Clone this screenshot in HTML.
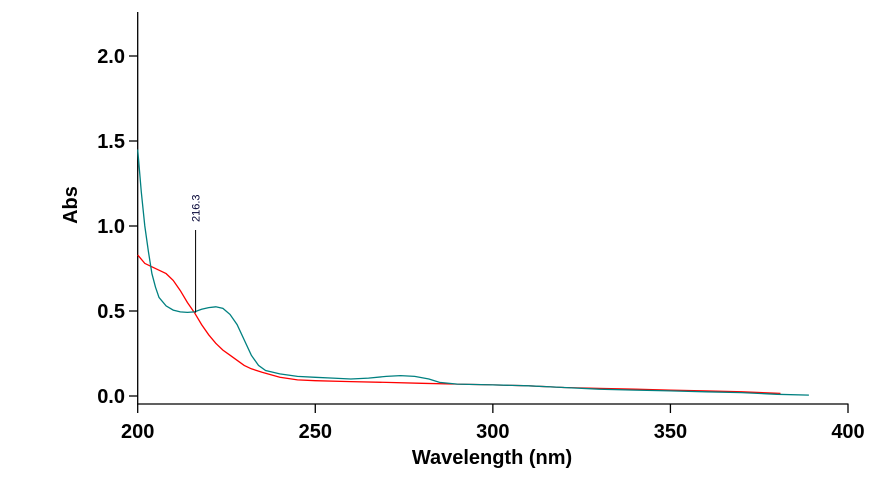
<!DOCTYPE html>
<html><head><meta charset="utf-8"><style>
html,body{margin:0;padding:0;background:#fff;}
svg text{font-family:"Liberation Sans",Arial,sans-serif;}
</style></head><body>
<svg id="chart" width="896" height="480" viewBox="0 0 896 480" xmlns="http://www.w3.org/2000/svg">
<g id="axes"></g>
<g id="series"></g>
<g id="annot"></g>
<text x="0" y="0" transform="translate(77,205) rotate(-90)" text-anchor="middle" font-size="20" font-weight="bold">Abs</text>
<text x="492" y="464" text-anchor="middle" font-size="20" font-weight="bold">Wavelength (nm)</text>
</svg>
<script>
const xTicks=[200,250,300,350,400];
const yTicks=[0.0,0.5,1.0,1.5,2.0];
const yTickLabels=["0.0","0.5","1.0","1.5","2.0"];
const tealX=[200,201,202,203,204,205,206,208,210,212,214,216,218,220,222,224,226,228,230,232,234,236,240,245,250,255,260,265,270,274,278,282,285,290,300,310,320,330,340,350,360,370,380,389];
const tealY=[1.45,1.2,1.0,0.85,0.72,0.64,0.58,0.53,0.505,0.495,0.492,0.495,0.51,0.52,0.525,0.515,0.48,0.42,0.33,0.24,0.18,0.15,0.13,0.115,0.11,0.105,0.10,0.105,0.115,0.12,0.115,0.10,0.08,0.07,0.065,0.06,0.05,0.04,0.035,0.03,0.025,0.02,0.01,0.005];
const redX=[200,202,204,206,208,210,212,214,216,218,220,222,224,226,228,230,232,235,240,245,250,260,270,280,290,300,310,320,330,340,350,360,370,381];
const redY=[0.83,0.78,0.76,0.74,0.72,0.68,0.62,0.55,0.49,0.42,0.36,0.31,0.27,0.24,0.21,0.18,0.16,0.14,0.11,0.095,0.09,0.085,0.08,0.075,0.07,0.065,0.06,0.05,0.045,0.04,0.035,0.03,0.025,0.015];
const peakX=[216.3];
const peakY=[0.49];
const peakLabels=["216.3"];
const NS="http://www.w3.org/2000/svg";
const xs=v=>137.7+(v-200)*(848-137.7)/200;
const ys=v=>396-v*170;
function mk(tag,attrs,parent){const e=document.createElementNS(NS,tag);for(const k in attrs)e.setAttribute(k,attrs[k]);parent.appendChild(e);return e;}
const ax=document.getElementById('axes');
let l=mk('line',{x1:137.7,y1:12,x2:137.7,y2:404,stroke:'#000','stroke-width':1.3},ax);


l=mk('line',{x1:137,y1:404,x2:848.5,y2:404,stroke:'#000','stroke-width':1.3},ax);


xTicks.forEach(v=>{
 const t=mk('line',{x1:xs(v),y1:404,x2:xs(v),y2:413,stroke:'#000','stroke-width':1.3},ax);
 
 
 const tx=mk('text',{x:xs(v),y:438,'text-anchor':'middle','font-size':20,'font-weight':'bold'},ax);
 tx.textContent=String(v);
 
 
});
yTicks.forEach((v,i)=>{
 const t=mk('line',{x1:129,y1:ys(v),x2:137.7,y2:ys(v),stroke:'#000','stroke-width':1.3},ax);
 
 
 const tx=mk('text',{x:125,y:ys(v)+7,'text-anchor':'end','font-size':20,'font-weight':'bold'},ax);
 tx.textContent=yTickLabels[i];
 
 
});
const sg=document.getElementById('series');
function pts(X,Y){return X.map((x,i)=>xs(x).toFixed(1)+','+ys(Y[i]).toFixed(1)).join(' ');}
let p=mk('polyline',{points:pts(redX,redY),fill:'none',stroke:'#ff0000','stroke-width':1.3},sg);


p=mk('polyline',{points:pts(tealX,tealY),fill:'none',stroke:'#008080','stroke-width':1.3},sg);


const an=document.getElementById('annot');
peakX.forEach((v,i)=>{
 const ln=mk('line',{x1:xs(v),y1:ys(peakY[i]),x2:xs(v),y2:230,stroke:'#000','stroke-width':1},an);
 
 
 const tx=mk('text',{x:0,y:0,transform:`translate(${xs(v)+4},222) rotate(-90)`,'font-size':11,'font-family':'"Liberation Serif",serif',fill:'#000033'},an);
 tx.textContent=peakLabels[i];
 
 
});
</script>
</body></html>
